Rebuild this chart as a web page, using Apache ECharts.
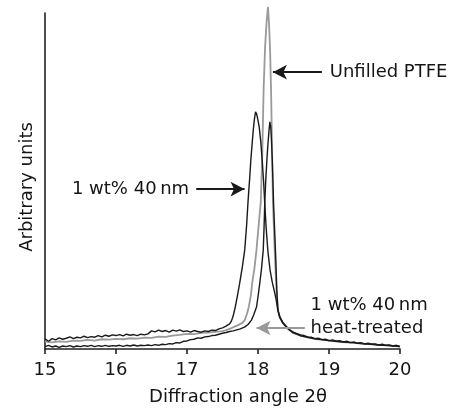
<!DOCTYPE html>
<html><head><meta charset="utf-8">
<script src="https://cdn.jsdelivr.net/npm/echarts@6/dist/echarts.min.js"></script>
<style>html,body{margin:0;padding:0;background:#fff}#c{width:462px;height:412px}</style>
</head><body><div id="c"></div>
<script>
// Diffraction angle (2θ) vs intensity (arbitrary units, 0-100 scale)
const unfilledPTFE = [[15.0,2.2],[15.1,2.0],[15.2,2.3],[15.3,2.1],[15.4,2.5],[15.5,2.4],[15.6,2.7],[15.7,2.5],[15.8,2.9],[15.9,2.8],[16.0,3.0],[16.1,2.9],[16.2,3.2],[16.3,3.1],[16.4,3.4],[16.5,3.3],[16.6,3.7],[16.7,3.6],[16.8,4.0],[16.9,4.2],[17.0,4.5],[17.1,4.4],[17.2,4.8],[17.3,4.9],[17.4,5.1],[17.5,5.3],[17.55,5.6],[17.625,6.2],[17.72,7.1],[17.78,7.8],[17.813,8.6],[17.845,10.5],[17.87,12.5],[17.9,16],[17.918,19.6],[17.95,24],[17.979,29.5],[18.01,37],[18.04,44],[18.06,58],[18.08,78],[18.1,90],[18.12,97],[18.14,101.8],[18.155,97],[18.17,89],[18.185,76],[18.2,57],[18.21,44],[18.235,29],[18.26,17.6],[18.28,11.6],[18.31,9.2],[18.35,7.7],[18.42,6.0],[18.49,4.8],[18.6,4.0],[18.73,3.3],[18.85,2.9],[19.0,2.5],[19.15,2.1],[19.34,1.8],[19.5,1.5],[19.7,1.2],[19.85,1.0],[20.0,0.7]];
const wt1_40nm = [[15.0,3.0],[15.05,2.3],[15.1,3.1],[15.15,2.7],[15.2,3.3],[15.25,2.9],[15.3,3.2],[15.35,3.6],[15.4,3.1],[15.45,3.5],[15.5,3.3],[15.55,3.8],[15.6,3.4],[15.65,3.7],[15.7,3.5],[15.75,4.0],[15.8,3.6],[15.85,4.1],[15.9,3.8],[15.95,4.2],[16.0,4.0],[16.05,4.3],[16.1,3.9],[16.15,4.4],[16.2,4.1],[16.25,4.3],[16.3,4.0],[16.35,4.4],[16.4,4.2],[16.45,4.5],[16.5,5.4],[16.55,5.1],[16.6,5.6],[16.65,5.2],[16.7,5.5],[16.75,5.0],[16.8,5.6],[16.85,5.3],[16.9,5.7],[16.95,5.2],[17.0,5.4],[17.05,5.0],[17.1,5.5],[17.15,5.2],[17.2,5.0],[17.25,5.4],[17.3,5.2],[17.35,5.6],[17.4,5.5],[17.45,6.0],[17.5,6.3],[17.55,6.8],[17.6,7.5],[17.625,8.3],[17.65,9.8],[17.68,12.5],[17.71,15.8],[17.742,19.6],[17.78,24.5],[17.813,29.5],[17.84,37],[17.86,44],[17.884,51.2],[17.9,56.5],[17.918,61.3],[17.935,65.5],[17.95,68.5],[17.965,70.6],[17.98,70],[17.995,68.6],[18.017,66.1],[18.04,61.5],[18.059,56.2],[18.08,49.5],[18.096,42.9],[18.115,36],[18.14,29],[18.17,23.5],[18.2,20],[18.23,17.2],[18.255,14.8],[18.28,11.5],[18.31,9.4],[18.35,7.9],[18.4,6.7],[18.45,5.6],[18.5,5.0],[18.55,4.6],[18.6,4.2],[18.65,4.0],[18.7,3.6],[18.75,3.5],[18.8,3.1],[18.85,3.2],[18.9,2.8],[18.95,2.9],[19.0,2.5],[19.05,2.7],[19.1,2.3],[19.15,2.5],[19.2,2.1],[19.25,2.3],[19.3,1.9],[19.35,2.1],[19.4,1.7],[19.45,1.9],[19.5,1.5],[19.55,1.7],[19.6,1.4],[19.65,1.5],[19.7,1.2],[19.75,1.4],[19.8,1.1],[19.85,1.2],[19.9,0.9],[19.95,1.1],[20.0,0.8]];
const wt1_40nm_heat = [[15.0,0.7],[15.05,1.1],[15.1,0.6],[15.15,0.9],[15.2,0.5],[15.25,0.9],[15.3,0.7],[15.35,1.0],[15.4,0.6],[15.45,0.9],[15.5,0.7],[15.55,1.0],[15.6,0.8],[15.65,1.1],[15.7,0.7],[15.75,1.0],[15.8,0.8],[15.85,1.1],[15.9,0.8],[15.95,1.0],[16.0,0.9],[16.05,1.1],[16.1,0.8],[16.15,1.1],[16.2,0.9],[16.25,1.2],[16.3,0.9],[16.35,1.1],[16.4,1.0],[16.45,1.2],[16.5,1.0],[16.55,1.3],[16.6,1.1],[16.65,1.4],[16.7,1.3],[16.75,1.6],[16.8,1.5],[16.85,1.9],[16.9,1.8],[16.95,2.3],[17.0,2.4],[17.05,2.8],[17.1,2.9],[17.15,3.3],[17.2,3.2],[17.25,3.6],[17.3,3.7],[17.35,4.0],[17.4,4.1],[17.45,4.4],[17.5,4.7],[17.55,4.9],[17.6,5.2],[17.65,5.4],[17.7,5.7],[17.75,6.0],[17.81,6.5],[17.86,7.3],[17.908,8.6],[17.94,10.2],[17.979,12.5],[18.0,15.5],[18.025,19.6],[18.05,24],[18.074,29.5],[18.085,36],[18.096,44],[18.11,50.5],[18.125,56.2],[18.14,61],[18.155,65],[18.167,67.6],[18.18,66],[18.19,62],[18.201,56.2],[18.21,50],[18.22,42.9],[18.235,35],[18.25,27],[18.265,17.6],[18.28,11.8],[18.3,9.8],[18.35,7.7],[18.42,6.1],[18.49,4.9],[18.55,4.4],[18.6,3.9],[18.65,3.7],[18.73,3.3],[18.8,3.0],[18.9,2.8],[19.0,2.5],[19.1,2.3],[19.2,2.1],[19.34,1.9],[19.45,1.6],[19.6,1.4],[19.7,1.2],[19.85,1.0],[20.0,0.7]];
const xMin = 15, xMax = 20, xStep = 1;
const xTitle = 'Diffraction angle 2\u03b8';
const yTitle = 'Arbitrary units';
// annotations: arrow from -> to (data coords), text anchor (data coords)
const annUnfilled = {text:['Unfilled PTFE'], from:[18.90,82.4], to:[18.21,82.4], at:[19.01,82.4], align:'left', color:'#1a1a1a'};
const ann40 = {text:['1 wt% 40\u2009nm'], from:[17.13,47.6], to:[17.81,47.6], at:[17.03,47.6], align:'right', color:'#1a1a1a'};
const annHeat = {text:['1 wt% 40\u2009nm','heat-treated'], from:[18.66,6.25], to:[17.98,6.25], at:[18.74,9.7], align:'left', color:'#999999'};
const anns = [annUnfilled, ann40, annHeat];

const FONT = 'DejaVu Sans';
const TXT = '#151515';
const chart = echarts.init(document.getElementById('c'), null, {renderer:'canvas'});
const lineSeries = (name, data, color, w, z) => ({
  name, type:'line', data, showSymbol:false, symbol:'none', clip:false, z,
  lineStyle:{color, width:w}, animation:false
});
const arrowSeries = anns.map((a,i) => ({
  type:'line', data:[], animation:false, silent:true,
  markLine:{silent:true, animation:false, symbol:['none','arrow'], symbolSize:[11,14],
    label:{show:false}, lineStyle:{color:a.color, width:2, type:'solid'},
    data:[[{coord:a.from},{coord:a.to}]]}
}));
chart.setOption({
  backgroundColor:'#fff',
  animation:false,
  grid:{left:45, right:62, top:13, bottom:63},
  xAxis:{type:'value', min:xMin, max:xMax, interval:xStep,
    axisLine:{lineStyle:{color:'#222', width:1.6}},
    axisTick:{show:true, inside:false, length:5, lineStyle:{color:'#222', width:1.6}},
    axisLabel:{color:TXT, fontSize:18, fontFamily:FONT, margin:12},
    splitLine:{show:false}},
  yAxis:{type:'value', min:0, max:100,
    axisLine:{show:true, lineStyle:{color:'#222', width:1.6}},
    axisTick:{show:false}, axisLabel:{show:false}, splitLine:{show:false}},
  series:[
    lineSeries('Unfilled PTFE', unfilledPTFE, '#9a9a9a', 1.8, 2),
    lineSeries('1 wt% 40 nm', wt1_40nm, '#1a1a1a', 1.4, 3),
    lineSeries('1 wt% 40 nm heat-treated', wt1_40nm_heat, '#1a1a1a', 1.4, 3)
  ].concat(arrowSeries)
});
const graphics = [];
anns.forEach(a => {
  const p = chart.convertToPixel({gridIndex:0}, a.at);
  graphics.push({type:'text', x:p[0], y:p[1], style:{text:a.text.join('\n'), fill:TXT,
    font:'18px "'+FONT+'"', textAlign:a.align, textVerticalAlign:'middle', lineHeight:23}});
});
graphics.push({type:'text', x:27, y:187, rotation:Math.PI/2,
  style:{text:yTitle, fill:TXT, font:'18px "'+FONT+'"', textAlign:'center', textVerticalAlign:'middle'}});
graphics.push({type:'text', x:238, y:397,
  style:{text:xTitle, fill:TXT, font:'18px "'+FONT+'"', textAlign:'center', textVerticalAlign:'middle'}});
chart.setOption({graphic:graphics});
</script></body></html>
